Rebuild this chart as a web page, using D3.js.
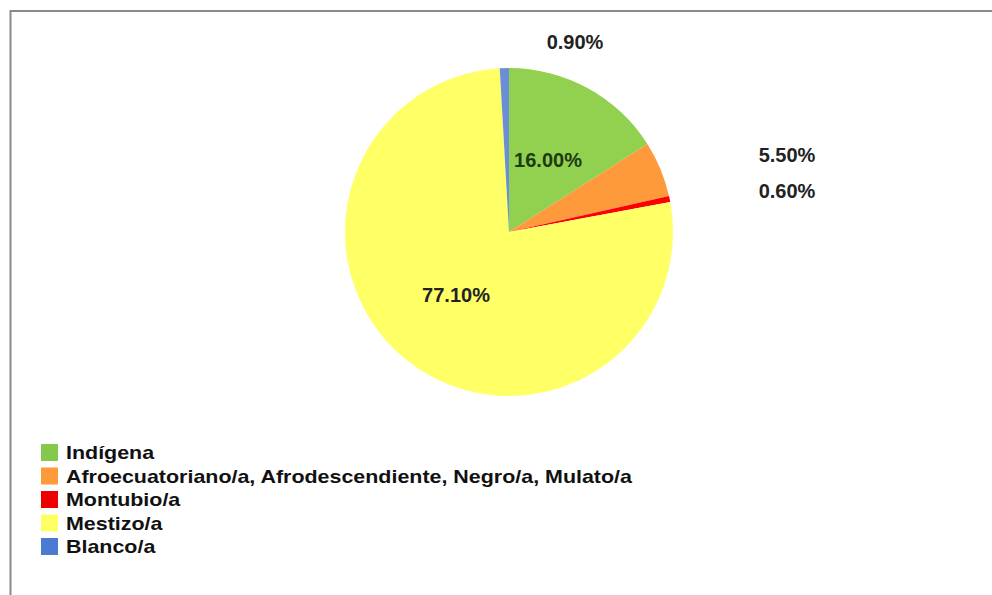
<!DOCTYPE html>
<html><head><meta charset="utf-8">
<script src="https://cdn.jsdelivr.net/npm/d3@7"></script>
<style>html,body{margin:0;padding:0;background:#fff;}svg{display:block;}</style>
</head><body>
<svg id="chart" width="992" height="595"></svg>
<script>
const categories = ["Indígena", "Afroecuatoriano/a, Afrodescendiente, Negro/a, Mulato/a", "Montubio/a", "Mestizo/a", "Blanco/a"];
const values = [16.0, 5.5, 0.6, 77.1, 0.9];
const labels = ["16.00%", "5.50%", "0.60%", "77.10%", "0.90%"];
const colors = ["#92d050", "#ff9a3c", "#ff0000", "#ffff66", "#6a8fd8"];
const legendColors = ["#86c84a", "#ff9a3c", "#ee0000", "#ffff66", "#4a7bd0"];

const svg = d3.select("#chart");
svg.append("path").attr("d", "M10.5,595 L10.5,11 L992,11").attr("fill", "none").attr("stroke", "#8a8a8a").attr("stroke-width", 2);

const cx = 509, cy = 232, r = 164;
const pie = d3.pie().sort(null).value(d => d)(values);
const arc = d3.arc().innerRadius(0).outerRadius(r);
const g = svg.append("g").attr("transform", `translate(${cx},${cy})`);
g.selectAll("path").data(pie).enter().append("path")
  .attr("d", arc).attr("fill", (d, i) => colors[i]);

const labelPos = [[39, -65], [278, -70], [278, -34], [-53, 70], [66, -183]];
svg.append("g").selectAll("text").data(labels).enter().append("text")
  .attr("x", (d, i) => cx + labelPos[i][0]).attr("y", (d, i) => cy + labelPos[i][1])
  .attr("text-anchor", "middle")
  .attr("font-family", "Liberation Sans, Arial, sans-serif")
  .attr("font-weight", "bold").attr("font-size", 20)
  .attr("fill", (d, i) => (i === 0 ? "#1e3a10" : "#222"))
  .text(d => d);

const lg = svg.append("g").attr("transform", "translate(41,444)");
const row = lg.selectAll("g").data(categories).enter().append("g")
  .attr("transform", (d, i) => `translate(0,${i * 23.5})`);
row.append("rect").attr("width", 17).attr("height", 17).attr("fill", (d, i) => legendColors[i]);
const txt = row.append("text").attr("x", 25).attr("y", 15)
  .attr("font-family", "Liberation Sans, Arial, sans-serif")
  .attr("font-weight", "bold")
  .attr("font-size", 19).attr("fill", "#111")
  .text(d => d);
// stretch horizontally so the longest entry matches the reference width
const widest = d3.max(txt.nodes(), n => n.getComputedTextLength());
const k = 566 / widest;
txt.attr("transform", `translate(25,0) scale(${k},1) translate(-25,0)`);
</script>
</body></html>
